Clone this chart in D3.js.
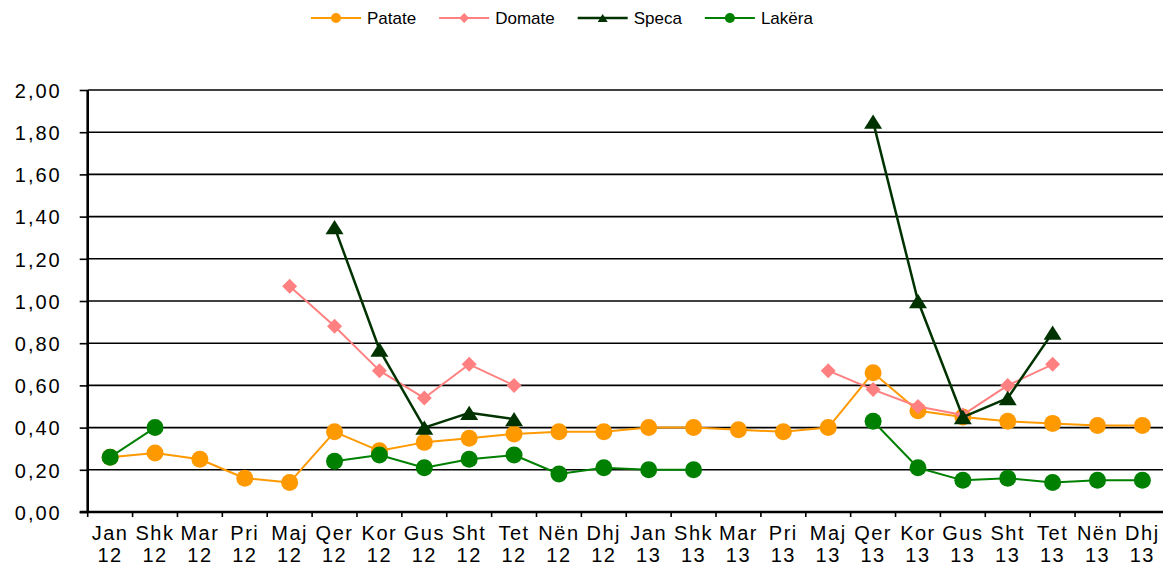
<!DOCTYPE html>
<html>
<head>
<meta charset="utf-8">
<script src="https://cdn.jsdelivr.net/npm/d3@7"></script>
<style>
  body { margin: 0; background: #fff; }
  text { font-family: "Liberation Sans", Arial, sans-serif; fill: #000; }
</style>
</head>
<body>
<script>
const width = 1163;
const height = 567;

const margin = {
    left: 87.7,
    top: 90,
    bottom: 55
};

// data
const months = ["Jan", "Shk", "Mar", "Pri", "Maj", "Qer", "Kor", "Gus", "Sht", "Tet", "Nën", "Dhj",
                "Jan", "Shk", "Mar", "Pri", "Maj", "Qer", "Kor", "Gus", "Sht", "Tet", "Nën", "Dhj"];
const years = ["12", "12", "12", "12", "12", "12", "12", "12", "12", "12", "12", "12",
               "13", "13", "13", "13", "13", "13", "13", "13", "13", "13", "13", "13"];

const patate = [0.26, 0.28, 0.25, 0.16, 0.14, 0.38, 0.29, 0.33, 0.35, 0.37, 0.38, 0.38,
                0.40, 0.40, 0.39, 0.38, 0.40, 0.66, 0.48, 0.45, 0.43, 0.42, 0.41, 0.41];
const domate = [null, null, null, null, 1.07, 0.88, 0.67, 0.54, 0.70, 0.60, null, null,
                null, null, null, null, 0.67, 0.58, 0.50, 0.46, 0.60, 0.70, null, null];
const speca = [null, null, null, null, null, 1.35, 0.77, 0.40, 0.47, 0.44, null, null,
               null, null, null, null, null, 1.85, 1.00, 0.45, 0.54, 0.85, null, null];
const lakera = [0.26, 0.40, null, null, null, 0.24, 0.27, 0.21, 0.25, 0.27, 0.18, 0.21,
                0.20, 0.20, null, null, null, 0.43, 0.21, 0.15, 0.16, 0.14, 0.15, 0.15];

const yTicks = [0, 0.2, 0.4, 0.6, 0.8, 1.0, 1.2, 1.4, 1.6, 1.8, 2.0];

const series = [
    { name: "Patate", values: patate, color: "#ff9900", width: 2, marker: "circle", size: 8.5, legendSize: 5 },
    { name: "Domate", values: domate, color: "#ff8080", width: 2, marker: "diamond", size: 7.5, legendSize: 5 },
    { name: "Speca", values: speca, color: "#003300", width: 2.5, marker: "triangle", size: 9, legendSize: 5 },
    { name: "Lakëra", values: lakera, color: "#008000", width: 2, marker: "circle", size: 8.5, legendSize: 5 }
];

const locale = d3.formatLocale({ decimal: ",", thousands: ".", grouping: [3], currency: ["", ""] });
const fmt = locale.format(".2f");

let svg = d3.select("body").append("svg")
    .attr("width", width)
    .attr("height", height);

const step = 44.88;
let xScale = d3.scaleBand()
    .domain(d3.range(months.length))
    .range([margin.left, margin.left + step * months.length])
    .padding(0);

let yScale = d3.scaleLinear()
    .domain([0, 2])
    .range([height - margin.bottom, margin.top]);

const cx = i => xScale(i) + xScale.bandwidth() / 2;

// grid
svg.append("g")
    .selectAll("line")
    .data(yTicks.filter(d => d > 0))
    .join("line")
    .attr("x1", margin.left)
    .attr("x2", width)
    .attr("y1", d => yScale(d))
    .attr("y2", d => yScale(d))
    .attr("stroke", "#000")
    .attr("stroke-width", 1.6);

// y axis
let yAxis = svg.append("g")
    .attr("transform", "translate(" + margin.left + ",0)")
    .call(d3.axisLeft(yScale).tickValues(yTicks).tickFormat(fmt).tickSize(8).tickPadding(18));
yAxis.select(".domain").attr("stroke", "#000").attr("stroke-width", 2.6)
    .attr("d", `M0,${yScale(2)}V${yScale(0)}`);
yAxis.selectAll(".tick line").attr("stroke", "#000").attr("stroke-width", 1.6);
yAxis.selectAll(".tick text")
    .style("font-family", "'Liberation Sans', Arial, sans-serif")
    .style("font-size", "20px")
    .style("letter-spacing", "2px")
    .attr("dy", "0.36em")
    .attr("fill", "#000");

// x axis
let xAxis = svg.append("g")
    .attr("transform", "translate(0," + yScale(0) + ")");
xAxis.append("line")
    .attr("x1", margin.left - 8)
    .attr("x2", width)
    .attr("stroke", "#000")
    .attr("stroke-width", 2.6);
xAxis.selectAll(".xtick")
    .data(d3.range(months.length + 1))
    .join("line")
    .attr("class", "xtick")
    .attr("x1", d => margin.left + d * step)
    .attr("x2", d => margin.left + d * step)
    .attr("y1", 0)
    .attr("y2", 5)
    .attr("stroke", "#000")
    .attr("stroke-width", 1.6);

let xLabels = xAxis.selectAll(".xlabel")
    .data(months)
    .join("text")
    .attr("class", "xlabel")
    .attr("text-anchor", "middle")
    .style("font-size", "20px")
    .style("letter-spacing", "1.5px");
xLabels.append("tspan")
    .attr("x", (d, i) => cx(i))
    .attr("y", 28)
    .text(d => d);
xLabels.append("tspan")
    .attr("x", (d, i) => cx(i))
    .attr("y", 50)
    .text((d, i) => years[i]);

// markers
function drawMarker(g, type, size, color) {
    if (type === "circle") {
        g.append("circle").attr("r", size).attr("fill", color);
    } else if (type === "diamond") {
        g.append("path")
            .attr("d", `M0,${-size}L${size},0L0,${size}L${-size},0Z`)
            .attr("fill", color);
    } else {
        const h = size * 1.6;
        g.append("path")
            .attr("d", `M0,${-h / 2}L${size},${h / 2}L${-size},${h / 2}Z`)
            .attr("fill", color);
    }
}

let line = d3.line()
    .defined(d => d.v !== null)
    .x(d => cx(d.i))
    .y(d => yScale(d.v));

series.forEach(s => {
    const pts = s.values.map((v, i) => ({ i: i, v: v }));
    const g = svg.append("g");
    g.append("path")
        .attr("fill", "none")
        .attr("stroke", s.color)
        .attr("stroke-width", s.width)
        .attr("stroke-linejoin", "round")
        .attr("d", line(pts));
    pts.filter(d => d.v !== null).forEach(d => {
        const m = g.append("g").attr("transform", `translate(${cx(d.i)},${yScale(d.v)})`);
        drawMarker(m, s.marker, s.size, s.color);
    });
});

// legend
let legend = svg.append("g").attr("transform", "translate(311,18)");
let lx = 0;
series.forEach(s => {
    const item = legend.append("g").attr("transform", `translate(${lx},0)`);
    item.append("line")
        .attr("x1", 0).attr("x2", 50)
        .attr("stroke", s.color)
        .attr("stroke-width", s.width);
    const m = item.append("g").attr("transform", "translate(25,0)");
    drawMarker(m, s.marker, s.legendSize, s.color);
    const t = item.append("text")
        .attr("x", 56)
        .attr("y", 6)
        .style("font-size", "17px")
        .text(s.name);
    lx += 56 + t.node().getComputedTextLength() + 23;
});
</script>
</body>
</html>
